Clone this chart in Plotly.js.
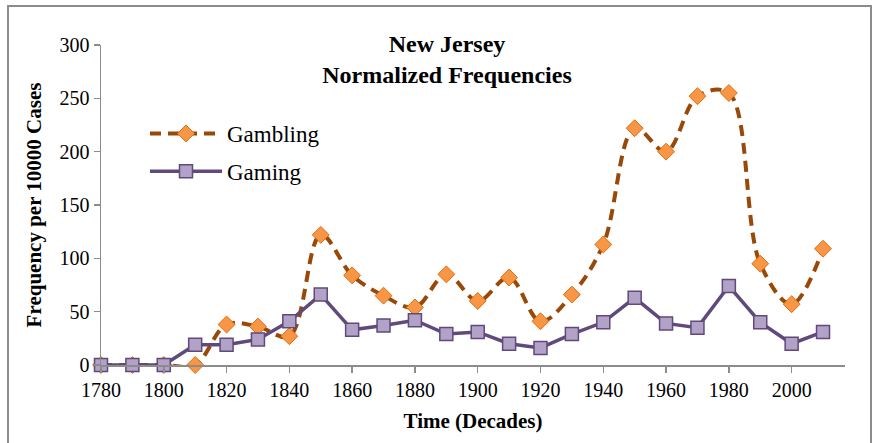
<!DOCTYPE html>
<html>
<head>
<meta charset="utf-8">
<script src="https://cdn.plot.ly/plotly-3.0.1.min.js"></script>
<style>html,body{margin:0;padding:0;background:#fff;}#chart{width:873px;height:443px;}</style>
</head>
<body>
<div id="chart"></div>
<script>
const decades = [1780,1790,1800,1810,1820,1830,1840,1850,1860,1870,1880,1890,1900,1910,1920,1930,1940,1950,1960,1970,1980,1990,2000,2010];
const gambling = [0,0,0,0,38,36,27,122,84,65,54,85,60,82,41,66,113,222,200,252,255,95,57,109];
const gaming = [0,0,0,19,19,24,41,66,33,37,42,29,31,20,16,29,40,63,39,35,74,40,20,31];
const xTicks = [1780,1800,1820,1840,1860,1880,1900,1920,1940,1960,1980,2000];
const yTicks = [0,50,100,150,200,250,300];

const serif = "Liberation Serif, Times New Roman, serif";

const traces = [
  {
    x: decades, y: gambling, name: "Gambling", type: "scatter", mode: "lines+markers",
    line: {color: "#984807", width: 4, dash: "11px,7px", shape: "spline", smoothing: 1},
    marker: {symbol: "diamond", size: 13, color: "#F79646", line: {color: "#E46C0A", width: 1}},
    cliponaxis: false, legendgroup: "a"
  },
  {
    x: decades, y: gaming, name: "Gaming", type: "scatter", mode: "lines+markers",
    line: {color: "#604A7B", width: 3.5},
    marker: {symbol: "square", size: 13, color: "#B3A2C7", line: {color: "#604A7B", width: 1.5}},
    cliponaxis: false, legendgroup: "b"
  }
];

const L = 101, R = 845, T = 45, B = 365;
const pw = R - L, ph = B - T;

const layout = {
  width: 873, height: 443,
  margin: {l: L, r: 873 - R, t: T, b: 443 - B, pad: 0},
  paper_bgcolor: "#fff", plot_bgcolor: "#fff",
  font: {family: serif, color: "#000", size: 20},
  showlegend: true,
  title: {
    text: "<b>New Jersey</b><br><b>Normalized Frequencies</b>",
    font: {family: serif, size: 24, color: "#000"},
    x: 447 / 873, xref: "container", xanchor: "center",
    y: 1 - 52 / 443, yref: "container", yanchor: "top"
  },
  xaxis: {
    range: [1780, 2017], tickvals: xTicks, ticktext: xTicks.map(String),
    showgrid: false, zeroline: false, showline: true, linecolor: "#8c8c8c", linewidth: 1.5,
    ticks: "outside", ticklen: 6, tickcolor: "#8c8c8c", tickwidth: 1.5,
    tickfont: {family: serif, size: 20, color: "#000"},
    title: {text: "<b>Time (Decades)</b>", font: {family: serif, size: 21, color: "#000"}, standoff: 14}
  },
  yaxis: {
    range: [0, 300], tickvals: yTicks, ticktext: yTicks.map(String),
    showgrid: false, zeroline: false, showline: true, linecolor: "#8c8c8c", linewidth: 1.5,
    ticks: "outside", ticklen: 6, tickcolor: "#8c8c8c", tickwidth: 1.5,
    tickfont: {family: serif, size: 20, color: "#000"},
    title: {text: "<b>Frequency per 10000 Cases</b>", font: {family: serif, size: 21, color: "#000"}, standoff: 12}
  },
  legend: {
    x: (145 - L) / pw, y: (B - 112) / ph, xanchor: "left", yanchor: "top",
    bgcolor: "rgba(0,0,0,0)", font: {family: serif, size: 23, color: "#000"},
    itemwidth: 72, tracegroupgap: 5, traceorder: "grouped"
  },
  shapes: [
    {type: "rect", xref: "paper", yref: "paper",
     x0: (8 - L) / pw, x1: (871 - L) / pw, y0: (B - 460) / ph, y1: (B - 6) / ph,
     line: {color: "#8c8c8c", width: 2}, fillcolor: "rgba(0,0,0,0)", layer: "below"}
  ]
};

Plotly.newPlot("chart", traces, layout, {displayModeBar: false, staticPlot: true});
</script>
</body>
</html>
